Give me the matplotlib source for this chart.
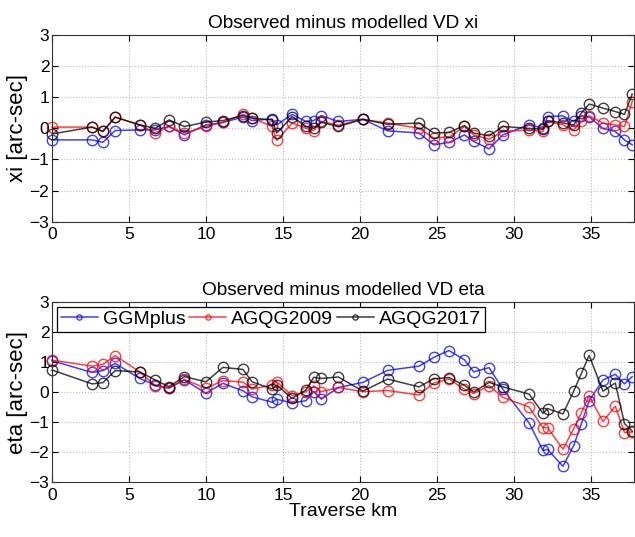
import matplotlib
matplotlib.use("Agg")
import matplotlib.pyplot as plt

plt.rcParams["font.family"] = ["Liberation Sans", "DejaVu Sans"]

# ── Data ─────────────────────────────────────────────────────────────────────
km = [0, 2.6, 3.3, 4.1, 5.7, 6.7, 7.6, 8.6, 10.0, 11.1, 12.4, 13.0, 14.3, 14.6,
      15.6, 16.5, 17.0, 17.5, 18.6, 20.2, 21.8, 23.85, 24.8, 25.8, 26.8, 27.4,
      28.4, 29.3, 31.0, 31.9, 32.2, 33.2, 33.9, 34.4, 34.9, 35.8, 36.6, 37.2, 37.7]

xi_ggm = [-0.37, -0.37, -0.45, -0.07, -0.05, -0.05, 0.06, -0.21, 0.11, 0.19, 0.36,
          0.25, 0.30, 0.11, 0.45, 0.22, 0.25, 0.41, 0.22, 0.29, -0.08, -0.15, -0.53,
          -0.45, -0.21, -0.42, -0.66, -0.21, 0.12, 0.0, 0.38, 0.40, 0.22, 0.40, 0.37,
          0.0, -0.1, -0.37, -0.53]
xi_09 = [0.04, 0.04, -0.1, 0.36, 0.11, -0.15, 0.06, -0.15, 0.06, 0.19, 0.45, 0.33,
         0.06, -0.39, 0.17, 0.0, -0.07, 0.22, 0.1, 0.29, 0.17, 0.0, -0.31, -0.28,
         0.06, -0.21, -0.35, -0.1, -0.05, -0.1, 0.22, 0.11, -0.05, 0.22, 0.4, 0.17,
         0.11, 0.06, 0.86]
xi_17 = [-0.18, 0.04, -0.1, 0.36, 0.11, 0.0, 0.27, 0.06, 0.2, 0.25, 0.41, 0.33, 0.27,
         -0.15, 0.38, 0.06, 0.0, 0.19, 0.06, 0.29, 0.13, 0.17, -0.15, -0.13, 0.09,
         -0.15, -0.24, 0.06, 0.0, -0.03, 0.25, 0.17, 0.11, 0.49, 0.78, 0.65, 0.54,
         0.45, 1.1]

eta_ggm = [1.04, 0.65, 0.71, 0.95, 0.45, 0.23, 0.14, 0.40, -0.04, 0.29, 0.04, -0.16,
           -0.34, -0.24, -0.36, -0.29, 0.01, -0.24, 0.15, 0.32, 0.72, 0.86, 1.15, 1.38,
           1.07, 0.67, 0.81, 0.09, -1.03, -1.94, -1.91, -2.47, -1.78, -1.05, -0.29,
           0.40, 0.59, 0.27, 0.51]
eta_09 = [1.06, 0.86, 0.92, 1.21, 0.67, 0.21, 0.12, 0.42, 0.12, 0.38, 0.33, 0.1, 0.23,
          0.34, -0.12, 0.01, 0.2, 0.01, 0.15, 0.01, 0.05, -0.1, 0.3, 0.43, 0.09, -0.05,
          0.21, -0.18, -0.5, -1.19, -1.19, -1.9, -1.22, -0.69, -0.13, -0.98, -0.47,
          -1.35, -1.33]
eta_17 = [0.73, 0.27, 0.31, 0.71, 0.67, 0.4, 0.18, 0.51, 0.34, 0.82, 0.75, 0.34, 0.1,
          0.23, -0.21, 0.07, 0.49, 0.45, 0.5, 0.03, 0.43, 0.17, 0.44, 0.48, 0.22, 0.0,
          0.32, 0.17, -0.07, -0.71, -0.55, -0.73, 0.03, 0.62, 1.22, 0.03, 0.3, -1.05,
          -1.3]

labels = ["GGMplus", "AGQG2009", "AGQG2017"]
colors = ["#0000ff", "#ff0000", "#000000"]
x_ticks = [0, 5, 10, 15, 20, 25, 30, 35]
y_ticks = [-3, -2, -1, 0, 1, 2, 3]

# ── Plot ──────────────────────────────────────────────────────────────────────
fig = plt.figure(figsize=(6.35, 5.37), dpi=100)
ax_xi = fig.add_axes([0.082, 0.587, 0.916, 0.348])
ax_eta = fig.add_axes([0.082, 0.102, 0.916, 0.336])


def style(ax, ylabel, title):
    ax.set_xlim(0, 37.8)
    ax.set_ylim(-3, 3)
    ax.set_xticks(x_ticks)
    ax.set_yticks(y_ticks)
    ax.grid(True, linestyle=":", color="#bbbbbb", linewidth=0.8)
    ax.tick_params(direction="in", top=True, right=True, labelsize=12.5,
                   length=4, width=0.8, pad=2)
    ax.tick_params(axis="x", pad=4)
    for s in ax.spines.values():
        s.set_linewidth(0.8)
        s.set_color("#333333")
    ax.set_ylabel(ylabel, fontsize=16, labelpad=1)
    ax.set_title(title, fontsize=13.7, pad=5)


for ax, series in ((ax_xi, (xi_ggm, xi_09, xi_17)),
                   (ax_eta, (eta_ggm, eta_09, eta_17))):
    for vals, col, lab in zip(series, colors, labels):
        ax.plot(km, vals, color=col, linewidth=1.1, marker="o", markersize=7.5,
                markerfacecolor="none", markeredgewidth=1.0, label=lab,
                alpha=0.75, clip_on=False)

style(ax_xi, "xi [arc-sec]", "Observed minus modelled VD xi")
style(ax_eta, "eta [arc-sec]", "Observed minus modelled VD eta")
ax_eta.set_xlabel("Traverse km", fontsize=14, labelpad=0)

leg = ax_eta.legend(loc="upper left", ncol=3, fontsize=14, markerscale=0.5,
                    handlelength=1.9, handletextpad=0.25, columnspacing=0.2,
                    borderpad=0.2, borderaxespad=0.25, fancybox=False,
                    edgecolor="black", framealpha=1)
leg.get_frame().set_linewidth(0.9)

fig.savefig("out.png", dpi=100)
